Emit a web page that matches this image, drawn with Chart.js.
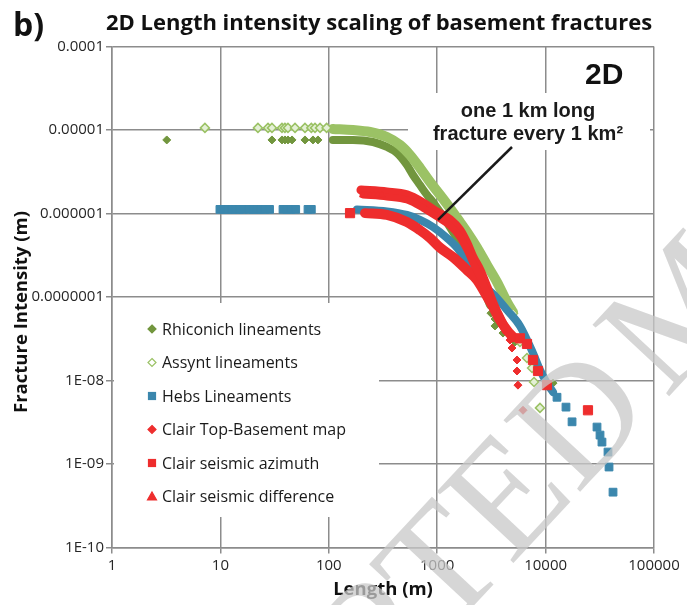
<!DOCTYPE html>
<html lang="en">
<head>
<meta charset="UTF-8">
<title>2D Length intensity scaling of basement fractures</title>
<script src="https://cdn.jsdelivr.net/npm/chart.js@4.4.1/dist/chart.umd.min.js"></script>
<style>
  html, body { margin: 0; padding: 0; background: #fff; }
  #wrap { position: relative; width: 687px; height: 605px; overflow: hidden; }
  #wrap canvas { position: absolute; left: 0; top: 0; }
  #overlay { position: absolute; left: 0; top: 0; pointer-events: none; }
</style>
</head>
<body>
<div id="wrap">
  <canvas id="chart" width="687" height="605"></canvas>
  <svg id="overlay" width="687" height="605" xmlns="http://www.w3.org/2000/svg">
    <text x="13" y="36" font-family="Open Sans" font-weight="700" font-size="32" fill="#111">b)</text>
    <text x="106" y="30" font-family="Open Sans" font-weight="700" font-size="22" fill="#111">2D Length intensity scaling of basement fractures</text>
    <text x="585" y="84" font-family="Liberation Sans" font-weight="700" font-size="30" fill="#111">2D</text>
    <text x="528" y="117" text-anchor="middle" font-family="Liberation Sans" font-weight="700" font-size="20" fill="#1a1a1a">one 1 km long</text>
    <text x="528" y="140" text-anchor="middle" font-family="Liberation Sans" font-weight="700" font-size="20" fill="#1a1a1a">fracture every 1 km²</text>
    <text transform="translate(26.5,312) rotate(-90)" text-anchor="middle" font-family="Open Sans" font-weight="700" font-size="18.5" fill="#111">Fracture Intensity (m)</text>
    <g id="legend"></g>
    <text x="92" y="1015" transform="rotate(-47 92 1015)" font-family="Liberation Serif" font-size="160" word-spacing="-25" fill="rgb(200,200,200)" fill-opacity="0.75">ACCEPTED MANUSCRIPT</text>
  </svg>
</div>
<script>
// axis ticks
const xTickValues = [1, 10, 100, 1000, 10000, 100000];
const yTickValues = [1e-10, 1e-9, 1e-8, 1e-7, 1e-6, 1e-5, 1e-4];
const yTickLabels = ['1E-10', '1E-09', '1E-08', '0.0000001', '0.000001', '0.00001', '0.0001'];

const seriesNames = ['Rhiconich lineaments', 'Assynt lineaments', 'Hebs Lineaments',
  'Clair Top-Basement map', 'Clair seismic azimuth', 'Clair seismic difference'];

// Rhiconich lineaments [length m, intensity]
const rhiconichPts = [[3.2, 7.6e-6], [29.9, 7.6e-6], [37, 7.6e-6], [39.4, 7.6e-6], [42, 7.6e-6],
  [45.8, 7.6e-6], [60.3, 7.6e-6], [71.5, 7.6e-6], [79.4, 7.6e-6],
  [3135, 6.4e-8], [3413, 5.45e-8], [3413, 4.5e-8], [4047, 3.7e-8], [5224, 2.89e-8], [11700, 9.3e-9]];
const rhiconichCurve = [[109, 7.59e-6], [167, 7.59e-6], [256, 7.18e-6], [344, 6.26e-6], [426, 5.31e-6],
  [526, 3.81e-6], [598, 2.89e-6], [694, 2.19e-6], [805, 1.67e-6], [915, 1.37e-6], [1062, 1.04e-6],
  [1400, 6.0e-7], [1883, 3.18e-7], [2483, 1.6e-7], [3069, 8.0e-8]];

// Assynt lineaments
const assyntPts = [[7.2, 1.06e-5], [22.2, 1.06e-5], [27.5, 1.06e-5], [29.9, 1.06e-5], [37, 1.06e-5],
  [39.4, 1.06e-5], [42, 1.06e-5], [48.8, 1.06e-5], [60.3, 1.06e-5], [69, 1.06e-5], [74.6, 1.06e-5],
  [83, 1.06e-5], [95.5, 1.06e-5],
  [5003, 6.4e-8], [5802, 2.89e-8], [6736, 1.86e-8], [7500, 1.41e-8], [7820, 9.6e-9], [8876, 4.7e-9]];
const assyntCurve = [[109, 1.03e-5], [167, 1.0e-5], [240, 9.46e-6], [344, 8.24e-6], [454, 6.61e-6],
  [561, 5.02e-6], [694, 3.51e-6], [859, 2.38e-6], [1062, 1.67e-6], [1313, 1.16e-6], [1623, 7.9e-7],
  [1883, 6.0e-7], [2330, 3.9e-7], [2878, 2.42e-7], [3564, 1.51e-7], [4406, 8.7e-8], [5003, 6.6e-8]];

// Hebs lineaments
const hebsPts = [[9.9, 1.12e-6], [10.8, 1.12e-6], [11.8, 1.12e-6], [12.8, 1.12e-6], [13.9, 1.12e-6],
  [15.0, 1.12e-6], [16.3, 1.12e-6], [18.4, 1.12e-6], [20.0, 1.12e-6], [21.8, 1.12e-6], [23.7, 1.12e-6],
  [25.8, 1.12e-6], [28.4, 1.12e-6], [37.8, 1.12e-6], [41.1, 1.12e-6], [44.8, 1.12e-6], [49.5, 1.12e-6],
  [64.3, 1.12e-6], [69.0, 1.12e-6],
  [12740, 6.3e-9], [15420, 4.8e-9], [17540, 3.2e-9], [29800, 2.77e-9], [31770, 2.22e-9],
  [33110, 1.83e-9], [37650, 1.39e-9], [38470, 9.2e-10], [41880, 4.6e-10]];
const hebsCurve = [[182, 1.12e-6], [344, 1.06e-6], [526, 9.6e-7], [694, 8.4e-7], [915, 6.9e-7],
  [1232, 5.1e-7], [1524, 3.9e-7], [1883, 2.62e-7], [2330, 1.83e-7], [2878, 1.28e-7], [3564, 9.7e-8],
  [4406, 7.0e-8], [5802, 4.5e-8], [7652, 2.13e-8], [8876, 1.34e-8], [10300, 9.3e-9], [11700, 7.3e-9]];

// Clair Top-Basement map
const topBasementPts = [[4697, 3.05e-8], [4898, 2.45e-8], [5446, 1.76e-8], [5446, 1.3e-8],
  [5559, 8.8e-9], [6189, 4.4e-9]];
const topBasementCurve = [[198, 1.91e-6], [344, 1.81e-6], [526, 1.67e-6], [740, 1.34e-6], [996, 1.04e-6],
  [1313, 8.4e-7], [1623, 6.3e-7], [1883, 4.4e-7], [2140, 3.0e-7], [2483, 2.1e-7], [2878, 1.32e-7],
  [3273, 8.5e-8], [3797, 5.6e-8], [4313, 4.0e-8]];

// Clair seismic azimuth
const azimuthPts = [[157, 1.01e-6], [5802, 3.2e-8], [6736, 2.74e-8], [7652, 1.76e-8], [8511, 1.3e-8],
  [10300, 8.8e-9], [24600, 4.4e-9]];
const azimuthCurve = [[216, 1.01e-6], [344, 9.6e-7], [526, 7.9e-7], [694, 6.3e-7], [859, 5.1e-7],
  [1062, 3.9e-7], [1400, 3.0e-7], [1883, 2.1e-7], [2330, 1.6e-7], [2760, 1.12e-7], [3273, 7.6e-8],
  [3797, 5.3e-8], [4406, 4.0e-8], [5003, 3.3e-8]];

// Clair seismic difference
const differencePts = [[207, 1.67e-6], [220, 1.67e-6], [240, 1.67e-6], [260, 1.67e-6], [283, 1.67e-6],
  [308, 1.67e-6]];
const differenceCurve = [[207, 1.67e-6], [344, 1.58e-6], [526, 1.45e-6], [740, 1.16e-6], [996, 9.1e-7],
  [1313, 7.1e-7], [1623, 5.2e-7], [1883, 3.66e-7], [2140, 2.55e-7], [2483, 1.74e-7], [2878, 1.12e-7],
  [3273, 7.4e-8], [3797, 5.0e-8]];

// callout pointer for "one 1 km long fracture every 1 km2"
const calloutLine = [[1017, 8.4e-7], [4898, 6.26e-6]];

const GRID = '#8c8c8c';
const darkGreen = '#72963e';
const lightGreen = '#9bc265';
const blue = '#3b87ad';
const red = '#ee2d2d';

const pts = arr => arr.map(([x, y]) => ({ x, y }));

function curve(data, color, width) {
  return {
    data: pts(data), showLine: true, borderColor: color, borderWidth: width,
    pointRadius: 0, pointHoverRadius: 0, cubicInterpolationMode: 'monotone',
    borderCapStyle: 'round', borderJoinStyle: 'round', fill: false
  };
}

function marks(data, style, radius, fill, edge, edgeWidth) {
  return {
    data: pts(data), showLine: false, pointStyle: style, pointRadius: radius,
    pointBackgroundColor: fill, pointBorderColor: edge, pointBorderWidth: edgeWidth
  };
}

// white boxes behind legend and callout text (they hide the grid like the original)
const whiteBoxes = {
  id: 'whiteBoxes',
  beforeDatasetsDraw(chart) {
    const ctx = chart.ctx;
    ctx.save();
    ctx.fillStyle = '#fff';
    ctx.fillRect(114, 303, 265, 214);
    ctx.fillRect(408, 93, 242, 57);
    ctx.restore();
  }
};

// first dataset is drawn on top
const datasets = [
  Object.assign(curve(calloutLine, '#1a1a1a', 2.5), { cubicInterpolationMode: 'default', borderCapStyle: 'butt' }),
  marks(differencePts, 'triangle', 4, red, red, 1),
  curve(differenceCurve, red, 7),
  marks(azimuthPts, 'rect', 6.5, red, red, 1),
  curve(azimuthCurve, red, 10),
  marks(topBasementPts, 'rectRot', 4, red, red, 1),
  curve(topBasementCurve, red, 9),
  marks(hebsPts, 'rect', 5.5, blue, blue, 1),
  curve(hebsCurve, blue, 8),
  marks(assyntPts, 'rectRot', 4.5, '#e4f0d6', lightGreen, 1.5),
  curve(assyntCurve, lightGreen, 10),
  marks(rhiconichPts, 'rectRot', 4, darkGreen, darkGreen, 1),
  curve(rhiconichCurve, darkGreen, 8)
];

new Chart(document.getElementById('chart'), {
  type: 'scatter',
  data: { datasets },
  plugins: [whiteBoxes],
  options: {
    responsive: false,
    animation: false,
    events: [],
    layout: { padding: { top: 46.5, right: 33, bottom: 0, left: 0 } },
    plugins: { legend: { display: false }, tooltip: { enabled: false }, title: { display: false } },
    scales: {
      x: {
        type: 'logarithmic', min: 1, max: 100000,
        afterBuildTicks: s => { s.ticks = xTickValues.map(v => ({ value: v })); },
        afterFit: s => { s.height = 57.5; },
        ticks: {
          callback: v => String(v), autoSkip: false, maxRotation: 0, padding: 3,
          color: '#262626', font: { family: 'Open Sans', size: 15 }
        },
        grid: { color: GRID, lineWidth: 1.5, tickLength: 6, tickColor: GRID },
        border: { color: GRID, width: 1.5 },
        title: {
          display: true, text: 'Length (m)', color: '#111',
          font: { family: 'Open Sans', size: 18.5, weight: 'bold' }, padding: { top: 0, bottom: 4 }
        }
      },
      y: {
        type: 'logarithmic', min: 1e-10, max: 1e-4,
        afterBuildTicks: s => { s.ticks = yTickValues.map(v => ({ value: v })); },
        afterFit: s => { s.width = 112; },
        ticks: {
          callback: (v, i) => yTickLabels[i], autoSkip: false, padding: 2,
          color: '#262626', font: { family: 'Open Sans', size: 15 }
        },
        grid: { color: GRID, lineWidth: 1.5, tickLength: 6, tickColor: GRID },
        border: { color: GRID, width: 1.5 }
      }
    }
  }
});

// legend inside the plot, markers matching the series
const legendStyles = [
  { shape: 'diamond', fill: darkGreen, stroke: darkGreen },
  { shape: 'diamond', fill: '#fff', stroke: lightGreen },
  { shape: 'square', fill: blue, stroke: blue },
  { shape: 'diamond', fill: red, stroke: red },
  { shape: 'square', fill: red, stroke: red },
  { shape: 'triangle', fill: red, stroke: red }
];
const NS = 'http://www.w3.org/2000/svg';
const legendGroup = document.getElementById('legend');
seriesNames.forEach((name, i) => {
  const cy = 329 + i * 33.5;
  const cx = 152;
  const st = legendStyles[i];
  let m;
  if (st.shape === 'square') {
    m = document.createElementNS(NS, 'rect');
    m.setAttribute('x', cx - 3.5); m.setAttribute('y', cy - 3.5);
    m.setAttribute('width', 7); m.setAttribute('height', 7);
  } else {
    m = document.createElementNS(NS, 'polygon');
    const p = st.shape === 'diamond'
      ? [[cx, cy - 4], [cx + 4, cy], [cx, cy + 4], [cx - 4, cy]]
      : [[cx, cy - 4.5], [cx + 4.5, cy + 3.5], [cx - 4.5, cy + 3.5]];
    m.setAttribute('points', p.map(q => q.join(',')).join(' '));
  }
  m.setAttribute('fill', st.fill);
  m.setAttribute('stroke', st.stroke);
  m.setAttribute('stroke-width', 1.2);
  legendGroup.appendChild(m);
  const t = document.createElementNS(NS, 'text');
  t.setAttribute('x', 162); t.setAttribute('y', cy + 5.5);
  t.setAttribute('font-family', 'Open Sans'); t.setAttribute('font-size', 16);
  t.setAttribute('fill', '#1a1a1a');
  t.textContent = name;
  legendGroup.appendChild(t);
});
</script>
</body>
</html>
